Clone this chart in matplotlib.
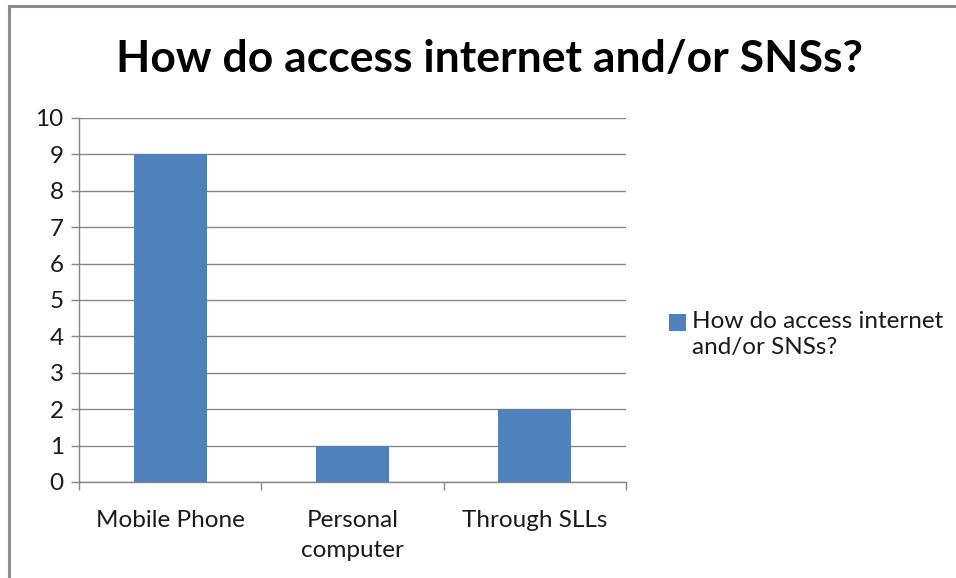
import numpy as np
import matplotlib.pyplot as plt

categories = ['Mobile Phone', 'Personal\ncomputer', 'Through SLLs']
counts = [9, 1, 2]
series_name = 'How do access internet\nand/or SNSs?'
title = 'How do access internet and/or SNSs?'

BLUE = '#4F81BD'
GRID = '#868686'

plt.rcParams['font.family'] = ['Lato', 'DejaVu Sans']

fig = plt.figure(figsize=(9.56, 5.78), dpi=100)
# chart frame (left and top edges visible)
fig.add_artist(plt.Line2D([9/956, 9/956], [0, 1 - 6/578], color='#8c8c8c', lw=2.2))
fig.add_artist(plt.Line2D([9/956, 1], [1 - 6/578, 1 - 6/578], color='#8c8c8c', lw=2.2))

ax = fig.add_axes([79/956, 1 - 482/578, (626 - 79)/956, (482 - 118)/578])
x = np.arange(len(categories))
ax.bar(x, counts, width=0.4, color=BLUE, zorder=3, label=series_name)

ax.set_xlim(-0.5, len(categories) - 0.5)
ax.set_ylim(0, 10)
ax.set_yticks(range(0, 11))
ax.yaxis.grid(True, color=GRID, lw=1.0, zorder=0)
ax.set_xticks(x)
ax.set_xticklabels(categories, fontsize=17.5, color='#1a1a1a', linespacing=1.55)
ax.set_xticks(np.arange(-0.5, len(categories)), minor=True)
ax.tick_params(axis='x', which='major', length=0, pad=20)
ax.tick_params(axis='x', which='minor', length=6, color=GRID, width=1)
ax.tick_params(axis='y', length=6, color=GRID, width=1, labelsize=17.5,
               labelcolor='#1a1a1a', pad=5)
for s in ['top', 'right']:
    ax.spines[s].set_visible(False)
for s in ['left', 'bottom']:
    ax.spines[s].set_color(GRID)
    ax.spines[s].set_linewidth(1.0)

fig.text(490/956, 1 - 59/578, title, ha='center', va='center',
         fontsize=32, fontweight='bold', color='black')

leg = fig.legend(loc='upper left', bbox_to_anchor=(657/956, 1 - 299/578),
                 frameon=False, fontsize=17.5, handlelength=0.68,
                 handleheight=0.68, handletextpad=0.25, labelspacing=0.2,
                 borderpad=0)
for t in leg.get_texts():
    t.set_color('#1a1a1a')
    t.set_linespacing(1.3)
# keep the swatch level with the first line of the label
swatch = leg.legend_handles[0]
swatch.set_y(swatch.get_y() + 9)

fig.savefig('out.png', dpi=100, facecolor='white')
